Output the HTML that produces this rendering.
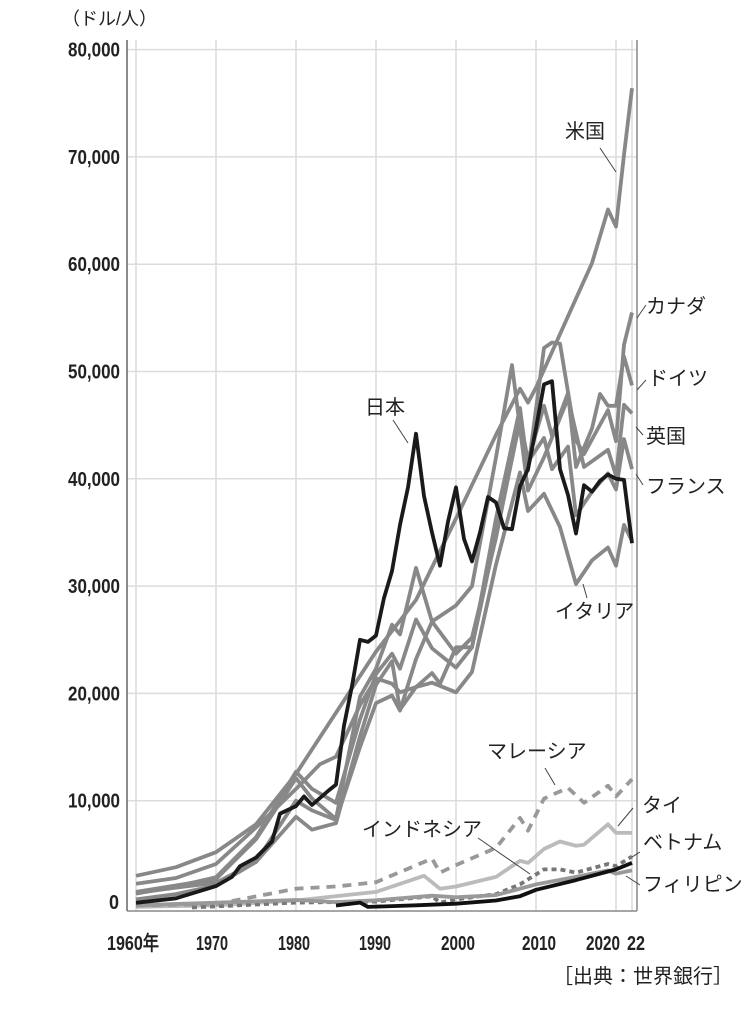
<!DOCTYPE html>
<html><head><meta charset="utf-8"><style>
body{margin:0;background:#fff;width:745px;height:1024px;overflow:hidden}
svg{display:block}
.n{font-family:"Liberation Sans Narrow","Liberation Sans",sans-serif;font-weight:bold;font-size:20px;fill:#222}
.j{font-family:"Liberation Sans","Noto Sans CJK JP",sans-serif;font-size:20px;fill:#222}
</style></head><body>
<svg id="s" width="745" height="1024" xmlns="http://www.w3.org/2000/svg">
<g id="grid" stroke="#dcdcdc" stroke-width="1.5"></g>
<line x1="127" y1="40" x2="127" y2="911" stroke="#666" stroke-width="1.5"/>
<line x1="637" y1="40" x2="637" y2="911" stroke="#888" stroke-width="1.5"/>
<line x1="127" y1="911" x2="637" y2="911" stroke="#888" stroke-width="1.5"/>
<g id="lines" fill="none" stroke-linejoin="round" stroke-width="3.8"></g>
<text class="j" x="62" y="25" style="font-size:18px">（ドル/人）</text>
<g class="n" id="yl"></g>
<g class="n">
<text x="107" y="950" textLength="52" lengthAdjust="spacingAndGlyphs">1960年</text>
<text x="196" y="950" textLength="32" lengthAdjust="spacingAndGlyphs">1970</text>
<text x="278" y="950" textLength="32" lengthAdjust="spacingAndGlyphs">1980</text>
<text x="359" y="950" textLength="32" lengthAdjust="spacingAndGlyphs">1990</text>
<text x="441" y="950" textLength="34" lengthAdjust="spacingAndGlyphs">2000</text>
<text x="522" y="950" textLength="34" lengthAdjust="spacingAndGlyphs">2010</text>
<text x="586" y="950" textLength="34" lengthAdjust="spacingAndGlyphs">2020</text>
<text x="627" y="950" textLength="18" lengthAdjust="spacingAndGlyphs">22</text></g>
<text class="j" x="553" y="983">［出典：世界銀行］</text>
<g class="j">
<text x="565" y="138">米国</text><text x="646" y="313">カナダ</text><text x="648" y="385">ドイツ</text>
<text x="646" y="443">英国</text><text x="646" y="493">フランス</text><text x="555" y="618">イタリア</text>
<text x="365" y="414">日本</text><text x="487" y="758">マレーシア</text><text x="642" y="812">タイ</text>
<text x="643" y="849">ベトナム</text><text x="643" y="891">フィリピン</text><text x="362" y="836">インドネシア</text></g>
<g stroke="#444" stroke-width="1">
<line x1="600" y1="148" x2="616" y2="172"/><line x1="646" y1="305" x2="637" y2="318"/>
<line x1="646" y1="380" x2="637" y2="390"/><line x1="643" y1="435" x2="636" y2="427"/>
<line x1="643" y1="485" x2="636" y2="474"/><line x1="587" y1="598" x2="583" y2="584"/>
<line x1="393" y1="420" x2="408" y2="443"/><line x1="545" y1="768" x2="555" y2="785"/>
<line x1="633" y1="808" x2="618" y2="826"/><line x1="640" y1="852" x2="632" y2="857"/>
<line x1="640" y1="885" x2="626" y2="876"/><line x1="478" y1="838" x2="530" y2="874"/></g>
</svg>
<script>
var X=function(y){return 136+(y-1960)*8.0},Y=function(v){return 908-v*0.01073};
var g=document.getElementById('grid'),yl=document.getElementById('yl');
var h='';for(var i=0;i<=8;i++){if(i>0)h+='<line x1="127" x2="637" y1="'+Y(i*10000)+'" y2="'+Y(i*10000)+'"/>';}
for(var i=0;i<=6;i++){h+='<line y1="40" y2="911" x1="'+X(1960+i*10)+'" x2="'+X(1960+i*10)+'"/>';}
h+='<line y1="40" y2="911" x1="'+X(2022)+'" x2="'+X(2022)+'"/>';
g.innerHTML=h;
var t='';for(var i=0;i<=8;i++){if(i==0)t+='<text x="109" y="909" textLength="10" lengthAdjust="spacingAndGlyphs">0</text>';else t+='<text x="68" y="'+(Y(i*10000)+7)+'" textLength="52" lengthAdjust="spacingAndGlyphs">'+(i*10)+',000</text>';}
yl.innerHTML=t;
var S=[
['#bbb','',[[1960,100],[1970,250],[1980,700],[1990,1500],[1996,3000],[1998,1800],[2000,2000],[2005,2900],[2008,4400],[2009,4200],[2011,5500],[2013,6200],[2015,5800],[2016,5900],[2019,7800],[2020,7000],[2022,7000]]],
['#999','9,7',[[1960,235],[1970,360],[1980,1800],[1985,2000],[1990,2400],[1997,4600],[1998,3300],[2000,4000],[2005,5600],[2008,8400],[2009,7200],[2011,10200],[2014,11200],[2016,9800],[2019,11400],[2020,10400],[2022,12000]]],
['#777','5,4',[[1967,50],[1980,500],[1990,600],[1997,1100],[1998,500],[2000,800],[2005,1300],[2008,2200],[2011,3600],[2013,3600],[2015,3300],[2019,4100],[2020,3900],[2022,4800]]],
['#999','',[[1960,250],[1980,750],[1985,550],[1990,720],[1997,1150],[2000,1000],[2005,1200],[2010,2200],[2015,2900],[2019,3500],[2020,3200],[2022,3500]]],
['#111','',[[1985,230],[1988,500],[1989,100],[1995,250],[2000,400],[2005,700],[2008,1100],[2010,1700],[2015,2600],[2019,3400],[2020,3600],[2022,4200]]],
['#888','',[[1960,800],[1965,1300],[1970,2100],[1975,4300],[1980,8500],[1982,7300],[1985,7900],[1988,16000],[1990,20800],[1992,23000],[1993,18500],[1995,20600],[1997,21000],[2000,20100],[2002,22000],[2005,32000],[2008,40600],[2009,37000],[2011,38600],[2013,35500],[2015,30200],[2017,32400],[2019,33600],[2020,31900],[2021,35700],[2022,34200]]],
['#888','',[[1960,1340],[1965,2000],[1970,2870],[1975,6600],[1980,12700],[1982,11100],[1985,9800],[1988,17600],[1990,21800],[1992,23700],[1993,22300],[1995,26900],[1997,24200],[2000,22400],[2002,24300],[2005,34800],[2008,45400],[2009,41600],[2011,43800],[2012,40900],[2014,43000],[2015,36600],[2017,38800],[2019,40500],[2020,39000],[2021,43700],[2022,40900]]],
['#888','',[[1960,1400],[1965,1900],[1970,2350],[1975,4300],[1980,10000],[1982,9100],[1985,8200],[1988,15000],[1990,19100],[1992,19800],[1993,18400],[1995,23200],[1997,26700],[2000,28200],[2002,30000],[2005,42000],[2007,50600],[2009,38900],[2011,42000],[2014,47500],[2016,41100],[2019,42700],[2020,40300],[2021,46900],[2022,46100]]],
['#888','',[[1960,1500],[1970,2700],[1975,6400],[1980,12100],[1982,10200],[1985,8300],[1988,19700],[1990,22300],[1992,26400],[1993,25500],[1995,31700],[1997,26700],[2000,23700],[2002,25200],[2005,34500],[2008,45600],[2009,41700],[2011,46800],[2012,44000],[2014,48000],[2015,41100],[2017,44700],[2018,47900],[2019,46800],[2020,46800],[2021,51400],[2022,48700]]],
['#888','',[[1960,2260],[1965,2800],[1970,4100],[1975,7500],[1980,11100],[1983,13400],[1985,14100],[1988,18900],[1990,21400],[1992,20900],[1993,20100],[1995,20600],[1997,21900],[1998,20900],[2000,24300],[2002,24300],[2005,36300],[2008,46600],[2009,40800],[2011,52200],[2012,52700],[2013,52600],[2015,43600],[2016,42300],[2019,46400],[2020,43500],[2021,52500],[2022,55500]]],
['#888','',[[1960,3000],[1965,3800],[1970,5200],[1975,7800],[1980,12500],[1985,18200],[1990,23900],[1995,28700],[2000,36300],[2005,44100],[2008,48400],[2009,47100],[2010,48500],[2015,56800],[2017,60100],[2019,65100],[2020,63500],[2021,70200],[2022,76400]]],
['#1a1a1a','',[[1960,480],[1965,900],[1970,2040],[1972,2900],[1973,3900],[1975,4700],[1977,6200],[1978,8800],[1980,9500],[1981,10400],[1982,9600],[1984,10900],[1985,11500],[1986,17000],[1987,20700],[1988,25000],[1989,24800],[1990,25400],[1991,28900],[1992,31400],[1993,35700],[1994,39200],[1995,44200],[1996,38400],[1997,35000],[1998,31900],[1999,36000],[2000,39200],[2001,34400],[2002,32300],[2003,35000],[2004,38300],[2005,37800],[2006,35400],[2007,35300],[2008,39300],[2009,40900],[2010,44700],[2011,48800],[2012,49100],[2013,40900],[2014,38500],[2015,34900],[2016,39400],[2017,38800],[2018,39800],[2019,40400],[2020,40000],[2021,39900],[2022,34000]]]
];
var L='';S.forEach(function(s){var d=s[2].map(function(p,i){return (i?'L':'M')+X(p[0]).toFixed(1)+','+Y(p[1]).toFixed(1)}).join('');
L+='<path d="'+d+'" stroke="'+s[0]+'"'+(s[1]?' stroke-dasharray="'+s[1]+'"':'')+'/>';});
document.getElementById('lines').innerHTML=L;
</script>
</body></html>
